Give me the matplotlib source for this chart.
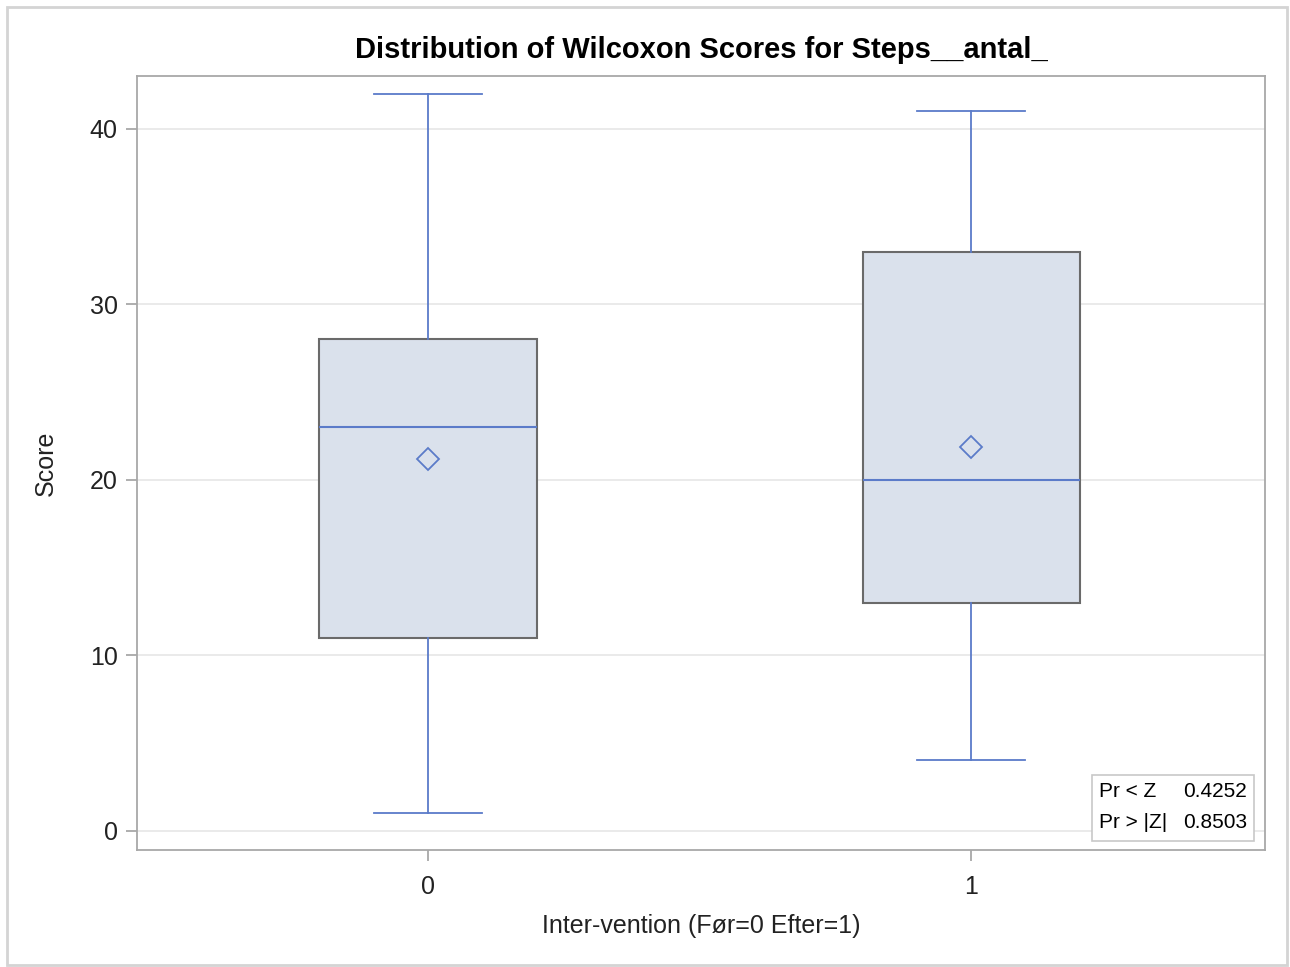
import matplotlib
matplotlib.use("Agg")
import matplotlib.pyplot as plt
from matplotlib.patches import Rectangle

plt.rcParams['font.family'] = ['Liberation Sans', 'DejaVu Sans']

# Wilcoxon score summary per group
groups = ['0', '1']
mins = [1, 4]
q1s = [11, 13]
medians = [23, 20]
q3s = [28, 33]
maxs = [42, 41]
means = [21.15, 21.85]

pr_labels = ['Pr < Z', 'Pr > |Z|']
pr_values = ['0.4252', '0.8503']

blue = '#5b7bc9'
fill = '#dae1ec'
edge = '#6a6a6a'

fig = plt.figure(figsize=(12.9, 9.67), dpi=100)
ax = fig.add_axes([0.1062, 0.121, 0.8744, 0.8004])

stats = []
for i in range(len(groups)):
    stats.append({'whislo': mins[i], 'q1': q1s[i], 'med': medians[i],
                  'q3': q3s[i], 'whishi': maxs[i], 'mean': means[i],
                  'fliers': [], 'label': groups[i]})

ax.bxp(stats, positions=[0, 1], widths=0.4, showmeans=True, patch_artist=True,
       boxprops=dict(facecolor=fill, edgecolor=edge, linewidth=1.5),
       medianprops=dict(color=blue, linewidth=1.5),
       whiskerprops=dict(color=blue, linewidth=1.3),
       capprops=dict(color=blue, linewidth=1.3),
       capwidths=0.2,
       meanprops=dict(marker='D', markerfacecolor='none', markeredgecolor=blue,
                      markersize=11, markeredgewidth=1.3),
       zorder=3)

ax.set_xlim(-0.536, 1.541)
ax.set_ylim(-1.1, 43)
ax.set_yticks([0, 10, 20, 30, 40])
ax.yaxis.grid(True, color='#e6e6e6', linewidth=1.2)
ax.set_axisbelow(True)
for s in ax.spines.values():
    s.set_color('#a8a8a8')
    s.set_linewidth(1.3)
ax.tick_params(colors='#a8a8a8', labelcolor='#222222', labelsize=18, length=8, width=1.3)
ax.tick_params(axis='x', pad=10)
ax.tick_params(axis='y', pad=6)

ax.set_title('Distribution of Wilcoxon Scores for Steps__antal_', fontsize=21,
             fontweight='bold', pad=13)
ax.set_xlabel('Inter-vention (Før=0 Efter=1)', fontsize=18, color='#222222', labelpad=11)
ax.set_ylabel('Score', fontsize=18, color='#222222', labelpad=23)

# p-value inset
tx = ax.transAxes
ax.add_patch(Rectangle((0.847, 0.012), 0.143, 0.085, transform=tx, facecolor='white',
                       edgecolor='#c8c8c8', linewidth=1.2, zorder=5))
for j in range(len(pr_labels)):
    y = 0.075 - j * 0.04
    ax.text(0.853, y, pr_labels[j], transform=tx, fontsize=15, va='center', zorder=6)
    ax.text(0.984, y, pr_values[j], transform=tx, fontsize=15, va='center', ha='right', zorder=6)

fig.patches.append(Rectangle((7 / 1290, 2 / 967), 1280 / 1290, 958 / 967, transform=fig.transFigure,
                             fill=False, edgecolor='#d4d4d4', linewidth=2))

fig.savefig('out.png', dpi=100)
